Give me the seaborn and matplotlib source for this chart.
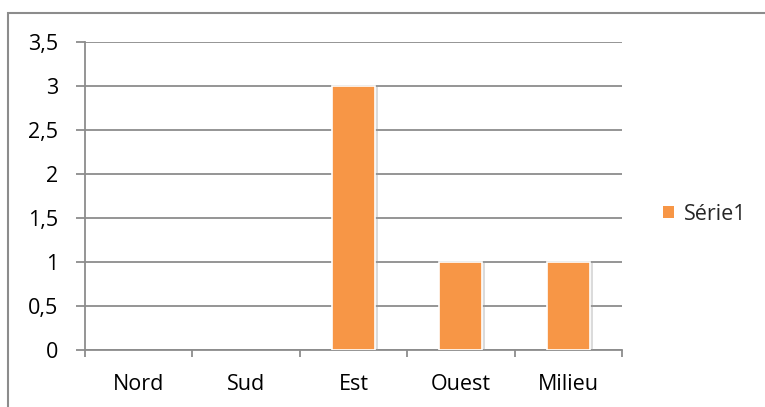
import matplotlib

matplotlib.use("Agg")
import matplotlib.pyplot as plt
import matplotlib.patheffects as pe
from matplotlib.patches import Rectangle
from matplotlib.ticker import FuncFormatter, FixedLocator
import pandas as pd
import seaborn as sns

categories = ["Nord", "Sud", "Est", "Ouest", "Milieu"]
values = [0, 0, 3, 1, 1]
series_name = "Série1"

ORANGE = "#F79646"
GRID = "#8c8c8c"

sns.set_theme(style="white")
plt.rcParams["font.family"] = ["Open Sans", "DejaVu Sans"]

df = pd.DataFrame({"cat": categories, "val": values})

fig = plt.figure(figsize=(7.65, 4.07), dpi=100)
ax = fig.add_axes([85 / 765, 1 - 350 / 407, 537 / 765, 308 / 407])

sns.barplot(data=df, x="cat", y="val", color=ORANGE, width=0.4, saturation=1,
            edgecolor="white", linewidth=1.2, ax=ax, zorder=3)
for bar in ax.patches:
    if bar.get_height() == 0:
        bar.set_visible(False)
        continue
    bar.set_path_effects([pe.SimplePatchShadow(offset=(2, -1), shadow_rgbFace="#999999", alpha=0.35),
                          pe.Normal()])

ax.set_xlim(-0.5, len(categories) - 0.5)
ax.set_ylim(0, 3.5)
ax.set_yticks([i * 0.5 for i in range(8)])
ax.yaxis.set_major_formatter(FuncFormatter(lambda v, p: f"{v:g}".replace(".", ",")))
ax.yaxis.grid(True, color=GRID, linewidth=1.3)
ax.set_axisbelow(True)

ax.xaxis.set_minor_locator(FixedLocator([i - 0.5 for i in range(len(categories) + 1)]))
ax.tick_params(axis="x", which="major", length=0, pad=17, labelsize=15.5, labelcolor="black")
ax.tick_params(axis="x", which="minor", length=5, width=1.3, color=GRID, direction="out", bottom=True)
ax.tick_params(axis="y", length=6.5, width=1.3, color=GRID, direction="out", left=True, pad=13,
               labelsize=15.5, labelcolor="black")

for side in ["top", "right"]:
    ax.spines[side].set_visible(False)
for side in ["left", "bottom"]:
    ax.spines[side].set_color(GRID)
    ax.spines[side].set_linewidth(1.3)
ax.set_xlabel("")
ax.set_ylabel("")

handle = Rectangle((0, 0), 1, 1, facecolor=ORANGE, edgecolor="none")
fig.legend([handle], [series_name], loc="center left", bbox_to_anchor=(663 / 765, 1 - 214 / 407),
           frameon=False, fontsize=15.5, borderpad=0, borderaxespad=0,
           handlelength=0.5, handleheight=0.5, handletextpad=0.45)

fig.patches.append(Rectangle((8 / 765, -0.1), 2, 1.1 - 13 / 407, transform=fig.transFigure,
                             fill=False, edgecolor=GRID, linewidth=1.5))

fig.savefig("out.png", dpi=100)
